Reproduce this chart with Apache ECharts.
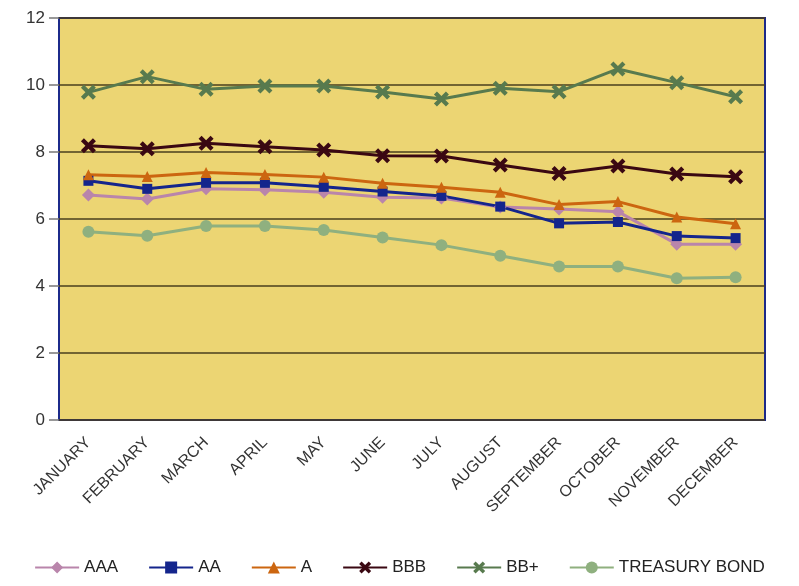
<!DOCTYPE html>
<html>
<head>
<meta charset="utf-8">
<script src="https://cdn.jsdelivr.net/npm/echarts@6/dist/echarts.min.js"></script>
<style>
  html, body { margin: 0; padding: 0; background: #fff; }
  #chart { width: 799px; height: 586px; }
</style>
</head>
<body>
<div id="chart"></div>
<script>
// months on the x axis
const months = ['JANUARY', 'FEBRUARY', 'MARCH', 'APRIL', 'MAY', 'JUNE', 'JULY',
  'AUGUST', 'SEPTEMBER', 'OCTOBER', 'NOVEMBER', 'DECEMBER']

// yields
const aaa = [6.72, 6.6, 6.9, 6.87, 6.8, 6.65, 6.63, 6.36, 6.3, 6.22, 5.25, 5.25]
const aa = [7.14, 6.9, 7.08, 7.08, 6.96, 6.82, 6.69, 6.37, 5.87, 5.91, 5.49, 5.43]
const a = [7.32, 7.27, 7.39, 7.33, 7.25, 7.07, 6.95, 6.8, 6.43, 6.52, 6.06, 5.86]
const bbb = [8.19, 8.1, 8.26, 8.16, 8.06, 7.89, 7.88, 7.61, 7.36, 7.58, 7.34, 7.26]
const bbPlus = [9.78, 10.25, 9.87, 9.97, 9.97, 9.79, 9.58, 9.9, 9.8, 10.48, 10.07, 9.65]
const treasury = [5.62, 5.5, 5.79, 5.79, 5.67, 5.45, 5.22, 4.9, 4.58, 4.58, 4.23, 4.26]

const yTicks = { min: 0, max: 12, interval: 2 }

const crossPath = 'path://M2,0 L5,3 L8,0 L10,2 L7,5 L10,8 L8,10 L5,7 L2,10 L0,8 L3,5 L0,2 Z'

const seriesDefs = [
  { name: 'AAA', data: aaa, color: '#b985ab', symbol: 'diamond', size: 13 },
  { name: 'AA', data: aa, color: '#14258c', symbol: 'rect', size: 10 },
  { name: 'A', data: a, color: '#cc6610', symbol: 'triangle', size: 11 },
  { name: 'BBB', data: bbb, color: '#3a0812', symbol: crossPath, size: 15 },
  { name: 'BB+', data: bbPlus, color: '#587a4e', symbol: crossPath, size: 15 },
  { name: 'TREASURY BOND', data: treasury, color: '#8fb07f', symbol: 'circle', size: 12 }
]

const chart = echarts.init(document.getElementById('chart'))

const seriesList = seriesDefs.map(item => ({
  name: item.name,
  type: 'line',
  data: item.data,
  symbol: item.symbol,
  symbolSize: item.size,
  lineStyle: { color: item.color, width: 3 },
  itemStyle: { color: item.color }
}))

const option = {
  animation: false,
  textStyle: { fontFamily: 'Liberation Sans' },
  legend: {
    bottom: 5,
    left: 'center',
    itemWidth: 44,
    itemHeight: 15,
    itemGap: 30,
    textStyle: { fontSize: 17, color: '#222', fontFamily: 'Liberation Sans' },
    data: seriesDefs.map(s => s.name)
  },
  grid: {
    left: 59,
    top: 18,
    right: 34,
    bottom: 166,
    show: true,
    backgroundColor: '#ecd573',
    borderColor: '#1c2a8a',
    borderWidth: 2
  },
  xAxis: {
    type: 'category',
    data: months,
    boundaryGap: true,
    axisLine: { show: false },
    axisTick: { show: false },
    axisLabel: { rotate: 45, fontSize: 16, color: '#333', margin: 20, interval: 0 }
  },
  yAxis: {
    type: 'value',
    min: yTicks.min,
    max: yTicks.max,
    interval: yTicks.interval,
    axisLine: { show: false },
    axisTick: { show: true, length: 10, inside: false, lineStyle: { color: '#777', width: 1.5 } },
    axisLabel: { fontSize: 17, color: '#333', margin: 14 },
    splitLine: { lineStyle: { color: '#4a3e1c', width: 1.5 } }
  },
  series: seriesList
}

option && chart.setOption(option)
</script>
</body>
</html>
